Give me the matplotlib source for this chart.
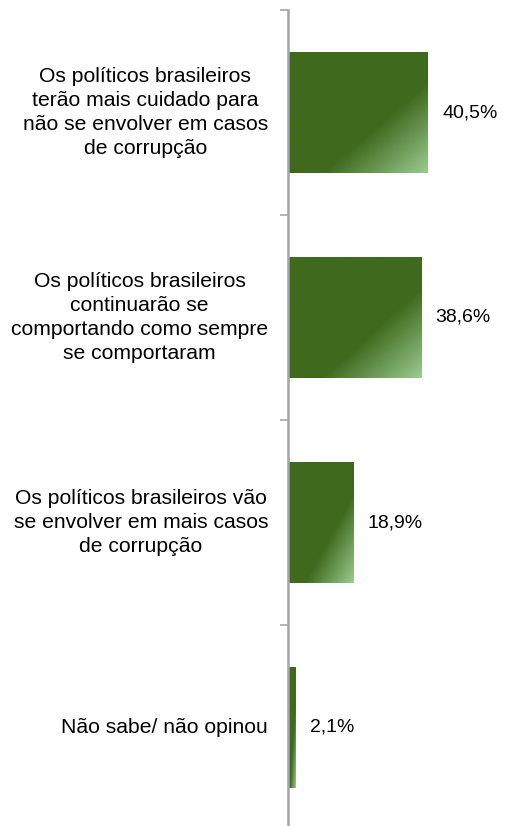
import matplotlib
matplotlib.use("Agg")
import matplotlib.pyplot as plt
import numpy as np
from matplotlib.colors import LinearSegmentedColormap

categories = [
    "Os políticos brasileiros\nterão mais cuidado para\nnão se envolver em casos\nde corrupção",
    "Os políticos brasileiros\ncontinuarão se\ncomportando como sempre\nse comportaram",
    "Os políticos brasileiros vão\nse envolver em mais casos\nde corrupção",
    "Não sabe/ não opinou",
]
values = [40.5, 38.6, 18.9, 2.1]
value_labels = ["40,5%", "38,6%", "18,9%", "2,1%"]

W, H = 505, 826
fig = plt.figure(figsize=(W / 100, H / 100), dpi=100)
x0, x1 = 287.5, 505
ytop, ybot = 10, 830
ax = fig.add_axes([x0 / W, 1 - ybot / H, (x1 - x0) / W, (ybot - ytop) / H])
ax.set_xlim(0, (x1 - x0) / 3.45)
ax.set_ylim(len(categories), 0)

dark = "#3f6a1e"
light = "#9acb90"
cmap = LinearSegmentedColormap.from_list("g", [(0, dark), (0.63, dark), (1.0, light)])

bh = 0.59
nx, ny = 200, 200
u = np.linspace(0, 1, nx)
v = np.linspace(0, 1, ny)
U, V = np.meshgrid(u, v)
T = (U + V) / 2

for i, val in enumerate(values):
    yc = i + 0.5
    bars = ax.barh(yc, val, height=bh, color="none", edgecolor="none")
    rect = bars[0]
    im = ax.imshow(T, cmap=cmap, vmin=0, vmax=1, aspect="auto",
                   extent=(0, val, yc + bh / 2, yc - bh / 2), origin="upper",
                   interpolation="bilinear", zorder=2)
    im.set_clip_path(rect)
    ax.text(val + 15 / 3.45, yc, value_labels[i], ha="left", va="center",
            fontsize=14, family="Liberation Sans", color="#000000")

ax.set_xlim(0, (x1 - x0) / 3.45)
ax.set_ylim(len(categories), 0)

ax.set_yticks(range(len(categories) + 1))
ax.set_yticklabels([])
ax.tick_params(axis="y", length=6, width=1.2, color="#a3a7ab", direction="out")
ax.set_xticks([])
for s in ["top", "right", "bottom"]:
    ax.spines[s].set_visible(False)
ax.spines["left"].set_color("#a3a7ab")
ax.spines["left"].set_linewidth(1.8)

for i, cat in enumerate(categories):
    ax.text(-19.5 / 3.45, i + 0.5, cat, ha="right", va="center", multialignment="center",
            fontsize=15.2, family="Liberation Sans", color="#000000", linespacing=1.33)

fig.savefig("out.png", dpi=100)
